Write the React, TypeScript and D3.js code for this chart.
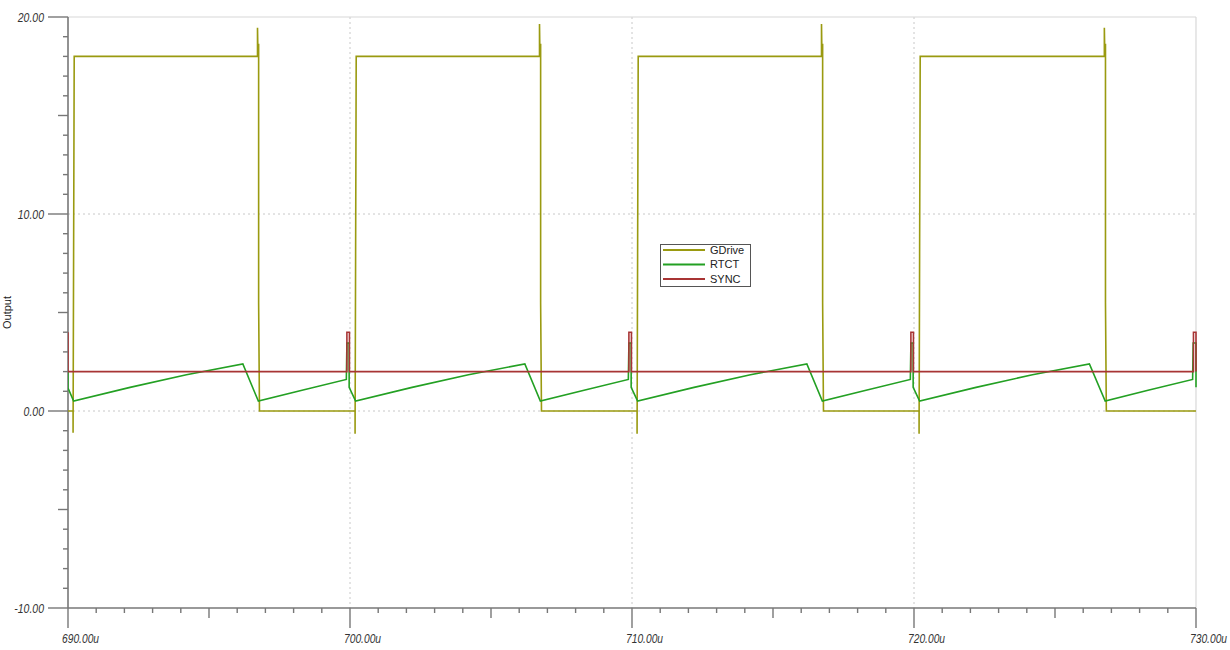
import React from "react";
import * as d3 from "d3";

// ---- data (time in µs, value in V) ----
const gdrive: [number, number][] = [
  [690.0, 0], [690.18, 0], [690.18, -1.1], [690.22, 18],
  [696.72, 18], [696.72, 19.45], [696.73, 18.6], [696.76, 18.6], [696.76, 5.5], [696.79, 0],
  [700.18, 0], [700.18, -1.15], [700.22, 18],
  [706.72, 18], [706.72, 19.65], [706.73, 18.6], [706.76, 18.6], [706.76, 5.5], [706.79, 0],
  [710.18, 0], [710.18, -1.15], [710.22, 18],
  [716.72, 18], [716.72, 19.65], [716.73, 18.6], [716.76, 18.6], [716.76, 5.5], [716.79, 0],
  [720.18, 0], [720.18, -1.15], [720.22, 18],
  [726.75, 18], [726.75, 19.45], [726.76, 18.6], [726.79, 18.6], [726.79, 5.5], [726.82, 0],
  [730.0, 0],
];

const rtct: [number, number][] = [
  [690.0, 2.0], [690.0, 1.17], [690.2, 0.5],
  [692.2, 1.2], [694.2, 1.84], [696.2, 2.39], [696.75, 0.5],
  [698.3, 1.05], [699.87, 1.6], [699.89, 3.45], [699.97, 3.45], [699.97, 1.2], [700.2, 0.5],
  [702.2, 1.2], [704.2, 1.84], [706.2, 2.39], [706.75, 0.5],
  [708.3, 1.05], [709.87, 1.6], [709.89, 3.45], [709.97, 3.45], [709.97, 1.2], [710.2, 0.5],
  [712.2, 1.2], [714.2, 1.84], [716.2, 2.39], [716.75, 0.5],
  [718.3, 1.05], [719.87, 1.6], [719.89, 3.45], [719.97, 3.45], [719.97, 1.2], [720.2, 0.5],
  [722.2, 1.2], [724.2, 1.84], [726.22, 2.39], [726.78, 0.5],
  [728.3, 1.05], [729.88, 1.6], [729.9, 3.45], [730.0, 3.45], [730.0, 1.2],
];

const sync: [number, number][] = [
  [690.0, 4], [690.0, 2],
  [699.89, 2], [699.89, 4], [699.98, 4], [699.98, 2],
  [709.89, 2], [709.89, 4], [709.98, 4], [709.98, 2],
  [719.89, 2], [719.89, 4], [719.98, 4], [719.98, 2],
  [729.91, 2], [729.91, 4], [730.0, 4], [730.0, 2],
];

const seriesNames = ["GDrive", "RTCT", "SYNC"];
const seriesColors = ["#9a9a10", "#23a023", "#a83434"];

const xMajorTicks = [690, 700, 710, 720, 730];
const xTickLabels = ["690.00u", "700.00u", "710.00u", "720.00u", "730.00u"];
const yMajorTicks = [-10, 0, 10, 20];
const yTickLabels = ["-10.00", "0.00", "10.00", "20.00"];
const yAxisTitle = "Output";

const W = 1230;
const H = 650;
const left = 68;
const right = 1196;
const top = 17;
const bottom = 608;

export default function App() {
  const x = d3.scaleLinear().domain([690, 730]).range([left, right]);
  const y = d3.scaleLinear().domain([-10, 20]).range([bottom, top]);
  const line = d3
    .line<[number, number]>()
    .x((d) => x(d[0]))
    .y((d) => y(d[1]));

  const font = "Arial, 'Liberation Sans', sans-serif";
  const axisColor = "#777";
  const gridColor = "#c8c8c8";

  const xMinor = x.ticks(40);
  const yMinor = y.ticks(30);

  const allSeries = [gdrive, rtct, sync];

  return (
    <svg
      width={W}
      height={H}
      style={{ position: "absolute", left: 0, top: 0, background: "#fff" }}
    >
      <defs>
        <clipPath id="plotclip">
          <rect x={left} y={top - 2} width={right - left + 1} height={bottom - top + 4} />
        </clipPath>
      </defs>
      <rect x={0} y={0} width={W} height={H} fill="#fff" />

      {/* grid */}
      {xMajorTicks.slice(1, -1).map((t) => (
        <line
          key={"gx" + t}
          x1={x(t)}
          x2={x(t)}
          y1={top}
          y2={bottom}
          stroke={gridColor}
          strokeDasharray="2,3"
        />
      ))}
      {[0, 10].map((v) => (
        <line
          key={"gy" + v}
          x1={left}
          x2={right}
          y1={y(v)}
          y2={y(v)}
          stroke={gridColor}
          strokeDasharray="2,3"
        />
      ))}
      {/* frame top/right */}
      <line x1={left} x2={right} y1={top} y2={top} stroke="#d8d8d8" strokeWidth={1.2} />
      <line x1={right} x2={right} y1={top} y2={bottom} stroke="#d8d8d8" strokeWidth={1.2} />

      {/* y axis */}
      <line x1={left} x2={left} y1={top} y2={bottom} stroke={axisColor} strokeWidth={1.6} />
      {yMinor.map((v) => {
        const major = yMajorTicks.includes(v);
        const mid = !major && v % 5 === 0;
        const len = major ? 20 : mid ? 10 : 5;
        return (
          <line
            key={"yt" + v}
            x1={left - len}
            x2={left}
            y1={y(v)}
            y2={y(v)}
            stroke={axisColor}
            strokeWidth={1.4}
          />
        );
      })}
      {yMajorTicks.map((v, i) => (
        <text
          key={"yl" + v}
          transform={`translate(${left - 24}, ${y(v)}) scale(0.84, 1)`}
          dy="0.36em"
          textAnchor="end"
          fontStyle="italic"
          fontSize={12.5}
          fontFamily={font}
          fill="#333"
        >
          {yTickLabels[i]}
        </text>
      ))}
      <text
        transform={`translate(11, ${(top + bottom) / 2}) rotate(-90)`}
        textAnchor="middle"
        fontSize={11}
        fontFamily={font}
        fill="#222"
      >
        {yAxisTitle}
      </text>

      {/* x axis */}
      <line x1={left} x2={right} y1={bottom} y2={bottom} stroke={axisColor} strokeWidth={1.6} />
      {xMinor.map((t) => {
        const major = xMajorTicks.includes(t);
        const mid = !major && t % 5 === 0;
        const len = major ? 20 : mid ? 10 : 5;
        return (
          <line
            key={"xt" + t}
            x1={x(t)}
            x2={x(t)}
            y1={bottom}
            y2={bottom + len}
            stroke={axisColor}
            strokeWidth={1.4}
          />
        );
      })}
      {xMajorTicks.map((t, i) => (
        <text
          key={"xl" + t}
          transform={`translate(${x(t) - 6}, 643) scale(0.82, 1)`}
          textAnchor="start"
          fontStyle="italic"
          fontSize={12.5}
          fontFamily={font}
          fill="#333"
        >
          {xTickLabels[i]}
        </text>
      ))}

      {/* series */}
      <g clipPath="url(#plotclip)">
        {allSeries.map((s, i) => (
          <path
            key={seriesNames[i]}
            d={line(s) || ""}
            fill="none"
            stroke={seriesColors[i]}
            strokeWidth={1.6}
            strokeLinejoin="miter"
          />
        ))}
      </g>

      {/* legend */}
      <g>
        <rect x={660.5} y={244.5} width={90} height={42} fill="#fff" stroke="#555" strokeWidth={1} />
        {seriesNames.map((n, i) => {
          const yy = 250 + i * 14.5;
          return (
            <g key={"lg" + n}>
              <line x1={663} x2={705} y1={yy} y2={yy} stroke={seriesColors[i]} strokeWidth={2} />
              <text
                x={710}
                y={yy}
                dy="0.35em"
                fontSize={11}
                fontFamily={font}
                fill="#222"
              >
                {n}
              </text>
            </g>
          );
        })}
      </g>
    </svg>
  );
}
